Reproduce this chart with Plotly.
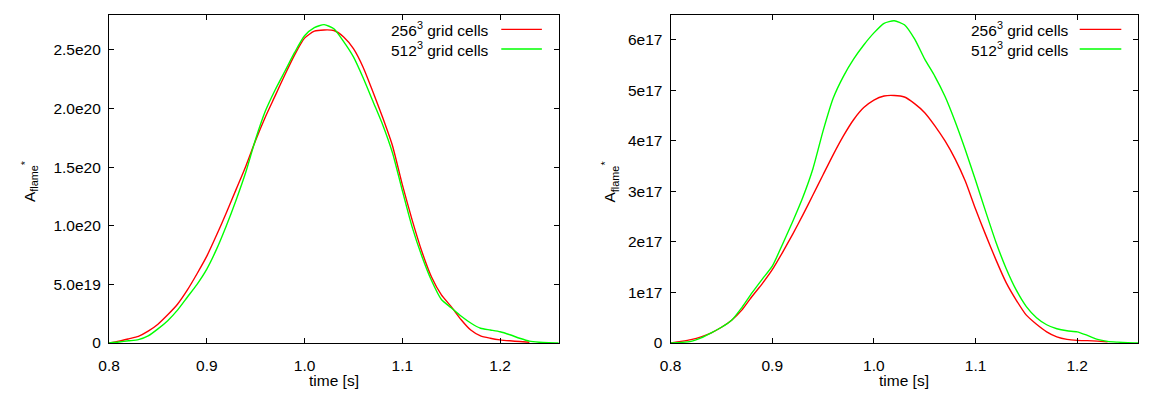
import plotly.graph_objects as go

W, H = 1153, 396

# ---------------- data ----------------
time_s = [0.80, 0.81, 0.82, 0.83, 0.84, 0.85, 0.86, 0.87, 0.88, 0.89,
          0.90, 0.91, 0.92, 0.93, 0.94, 0.95, 0.96, 0.97, 0.98, 0.99,
          1.00, 1.01, 1.02, 1.03, 1.04, 1.05, 1.06, 1.07, 1.08, 1.09,
          1.10, 1.11, 1.12, 1.13, 1.14, 1.15, 1.16, 1.17, 1.18, 1.19,
          1.20, 1.21, 1.22, 1.23, 1.24, 1.25, 1.26]

# left panel, units of 1e20
left_256 = [0.00, 0.015, 0.035, 0.056, 0.10, 0.16, 0.24, 0.33, 0.45, 0.59,
            0.74, 0.92, 1.11, 1.31, 1.51, 1.73, 1.93, 2.11, 2.29, 2.46,
            2.60, 2.66, 2.67, 2.665, 2.61, 2.51, 2.35, 2.14, 1.92, 1.68,
            1.35, 1.05, 0.78, 0.56, 0.41, 0.31, 0.20, 0.11, 0.06, 0.04,
            0.026, 0.018, 0.012, 0.006, None, None, None]
left_512 = [0.00, 0.008, 0.018, 0.028, 0.06, 0.12, 0.19, 0.28, 0.39, 0.50,
            0.63, 0.80, 1.00, 1.22, 1.46, 1.74, 1.98, 2.16, 2.32, 2.48,
            2.62, 2.69, 2.715, 2.68, 2.57, 2.44, 2.26, 2.06, 1.86, 1.62,
            1.30, 0.99, 0.74, 0.53, 0.37, 0.30, 0.23, 0.17, 0.125, 0.11,
            0.095, 0.07, 0.04, 0.015, 0.006, 0.002, 0.0]

# right panel, units of 1e17
right_256 = [0.00, 0.03, 0.065, 0.12, 0.20, 0.31, 0.45, 0.65, 0.92, 1.17,
             1.45, 1.79, 2.15, 2.53, 2.93, 3.33, 3.73, 4.10, 4.42, 4.66,
             4.81, 4.89, 4.90, 4.87, 4.74, 4.56, 4.30, 4.00, 3.64, 3.20,
             2.65, 2.14, 1.65, 1.20, 0.85, 0.55, 0.37, 0.22, 0.12, 0.07,
             0.05, 0.045, 0.035, 0.02, None, None, None]
right_512 = [0.00, 0.01, 0.03, 0.10, 0.20, 0.31, 0.45, 0.70, 0.99, 1.26,
             1.52, 1.95, 2.40, 2.88, 3.45, 4.20, 4.85, 5.28, 5.62, 5.90,
             6.14, 6.33, 6.38, 6.30, 6.02, 5.62, 5.28, 4.88, 4.38, 3.82,
             3.22, 2.60, 2.00, 1.48, 1.05, 0.72, 0.50, 0.36, 0.28, 0.24,
             0.22, 0.15, 0.07, 0.03, 0.015, 0.005, 0.0]

left_scale = 1e20
right_scale = 1e17

series_names = ["256<sup>3</sup> grid cells", "512<sup>3</sup> grid cells"]
series_colors = ["#ff0000", "#00ff00"]

x_ticks = [0.8, 0.9, 1.0, 1.1, 1.2]
x_ticktext = ["0.8", "0.9", "1.0", "1.1", "1.2"]
left_yticks = [0, 0.5e20, 1.0e20, 1.5e20, 2.0e20, 2.5e20]
left_yticktext = ["0", "5.0e19", "1.0e20", "1.5e20", "2.0e20", "2.5e20"]
right_yticks = [0, 1e17, 2e17, 3e17, 4e17, 5e17, 6e17]
right_yticktext = ["0", "1e17", "2e17", "3e17", "4e17", "5e17", "6e17"]

x_title = "time [s]"
y_title = "A<sub>flame</sub><sup>*</sup>"

# ---------------- figure ----------------
FONT = "Liberation Sans, Arial, sans-serif"
FS = 15.5

def scaled(vals, s):
    return [None if v is None else v * s for v in vals]

fig = go.Figure()
panels = [
    ("x", "y", left_256, left_512, left_scale),
    ("x2", "y2", right_256, right_512, right_scale),
]
for xa, ya, s256, s512, sc in panels:
    for vals, name, col in zip([s256, s512], series_names, series_colors):
        fig.add_trace(go.Scatter(
            x=time_s, y=scaled(vals, sc), mode="lines", name=name,
            line=dict(color=col, width=1.4, shape="spline", smoothing=0.6),
            xaxis=xa, yaxis=ya, showlegend=False, connectgaps=False,
        ))

top_px, bot_px = 15, 350
ydom = [1 - bot_px / H, 1 - top_px / H]
xdom1 = [99 / W, 553 / W]
xdom2 = [666 / W, 1138 / W]

axis_common = dict(
    showline=True, linecolor="black", linewidth=1.3, mirror="ticks",
    ticks="inside", ticklen=5, tickwidth=1, tickcolor="black",
    showgrid=False, zeroline=False,
    tickfont=dict(family=FONT, size=FS, color="black"),
)
xcommon = dict(range=[0.8, 1.26], tickvals=x_ticks, ticktext=x_ticktext,
               ticklabelstandoff=8, **axis_common)

fig.update_layout(
    width=W, height=H,
    margin=dict(l=0, r=0, t=0, b=0),
    paper_bgcolor="white", plot_bgcolor="white",
    font=dict(family=FONT, size=FS, color="black"),
    xaxis=dict(domain=xdom1, anchor="y", **xcommon),
    yaxis=dict(domain=ydom, range=[0, 2.8e20], tickvals=left_yticks, ticktext=left_yticktext,
               anchor="x", ticklabelstandoff=4, **axis_common),
    xaxis2=dict(domain=xdom2, anchor="y2", **xcommon),
    yaxis2=dict(domain=ydom, range=[0, 6.5e17], tickvals=right_yticks, ticktext=right_yticktext,
                anchor="x2", ticklabelstandoff=4, **axis_common),
    showlegend=False,
)

# axis titles placed like gnuplot
for cx in [326, 902]:
    fig.add_annotation(x=cx / W, y=1 - 388.5 / H, xref="paper", yref="paper",
                       text=x_title, showarrow=False, xanchor="center", yanchor="middle",
                       font=dict(family=FONT, size=FS, color="black"))
for cx in [19, 605]:
    fig.add_annotation(x=cx / W, y=1 - 185 / H, xref="paper", yref="paper",
                       text=y_title, showarrow=False, textangle=-90,
                       xanchor="center", yanchor="middle",
                       font=dict(family=FONT, size=FS, color="black"))

# gnuplot-style key: text right-aligned, line sample on the right
keys = [(485, 495, 536), (1070, 1079, 1121)]
rows = [30, 50]
for (txt_r, l0, l1) in keys:
    for name, col, yr in zip(series_names, series_colors, rows):
        fig.add_annotation(x=txt_r / W, y=1 - yr / H, xref="paper", yref="paper",
                           text=name, showarrow=False, xanchor="right", yanchor="middle",
                           font=dict(family=FONT, size=FS, color="black"))
        fig.add_shape(type="line", xref="paper", yref="paper",
                      x0=l0 / W, x1=l1 / W, y0=1 - yr / H, y1=1 - yr / H,
                      line=dict(color=col, width=1.4))

fig.write_html("out.html")
